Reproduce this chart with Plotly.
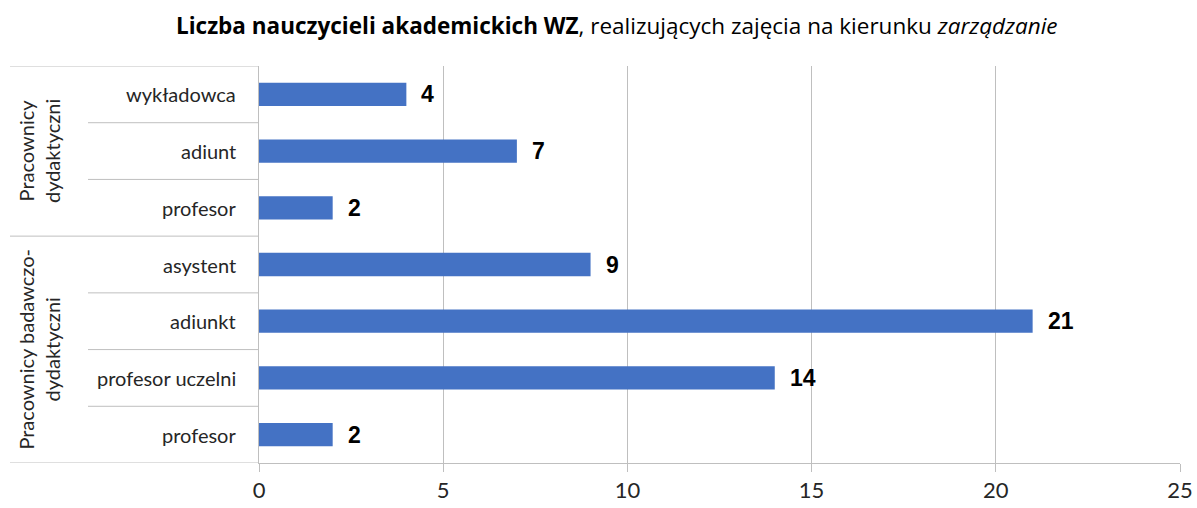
import plotly.graph_objects as go

# Data (bottom to top)
categories = ["profesor", "profesor uczelni", "adiunkt", "asystent",
              "profesor", "adiunt", "wykładowca"]
values = [2, 14, 21, 9, 2, 7, 4]
groups = ["Pracownicy badawczo-<br>dydaktyczni", "Pracownicy<br>dydaktyczni"]
group_ranges = [(0, 3), (4, 6)]
x_ticks = [0, 5, 10, 15, 20, 25]

W, H = 1197, 508
ml, mr, mt, mb = 259, 17, 66, 45
pw = W - ml - mr
ph = H - mt - mb

def px_to_paper_x(px):
    return (px - ml) / pw

def px_to_paper_y(py):
    return (H - mb - py) / ph

font_main = "Lato, 'Open Sans', sans-serif"
line_col = "#bfbfbf"
bar_col = "#4472C4"

pos = list(range(len(categories)))

fig = go.Figure()
fig.add_trace(go.Bar(
    x=values, y=pos, orientation="h",
    marker=dict(color=bar_col, line=dict(width=0)),
    width=0.41, hoverinfo="skip"
))

annotations = []
# value labels
for p, v in zip(pos, values):
    annotations.append(dict(
        x=v, y=p, xref="x", yref="y", text=f"<b>{v}</b>",
        showarrow=False, xanchor="left", yanchor="middle", xshift=13,
        font=dict(family="'Liberation Sans', Arial, sans-serif", size=23, color="#000000")
    ))
# category labels
for p, c in zip(pos, categories):
    annotations.append(dict(
        x=px_to_paper_x(238), y=p, xref="paper", yref="y", text=c,
        showarrow=False, xanchor="right", yanchor="middle",
        font=dict(family=font_main, size=20, color="#262626")
    ))
# group labels
for g, (a, b) in zip(groups, group_ranges):
    annotations.append(dict(
        x=px_to_paper_x(39), y=(a + b) / 2, xref="paper", yref="y", text=g,
        showarrow=False, xanchor="center", yanchor="middle", textangle=-90,
        font=dict(family=font_main, size=20, color="#262626")
    ))
# title
annotations.append(dict(
    x=px_to_paper_x(617), y=px_to_paper_y(26), xref="paper", yref="paper",
    xanchor="center", yanchor="middle", showarrow=False,
    text="<b>Liczba nauczycieli akademickich WZ</b>, realizujących zajęcia na kierunku <i>zarządzanie</i>",
    font=dict(family="'Open Sans', sans-serif", size=22.5, color="#000000")
))

shapes = []
n = len(categories)
for i in range(n + 1):
    yb = i - 0.5
    is_group_edge = (i == 0) or (i == n) or any(i == a for a, b in group_ranges)
    x0 = px_to_paper_x(10) if is_group_edge else px_to_paper_x(88)
    shapes.append(dict(type="line", xref="paper", yref="y", x0=x0, x1=0,
                       y0=yb, y1=yb, line=dict(color=line_col, width=1)))

fig.update_layout(
    width=W, height=H,
    margin=dict(l=ml, r=mr, t=mt, b=mb, autoexpand=False),
    paper_bgcolor="white", plot_bgcolor="white",
    showlegend=False,
    annotations=annotations, shapes=shapes,
    xaxis=dict(range=[0, 25], tickvals=x_ticks, showgrid=True, gridcolor=line_col, gridwidth=1,
               zeroline=False, showline=True, linecolor=line_col, linewidth=1,
               ticks="outside", ticklen=8, tickcolor=line_col, automargin=False,
               tickfont=dict(family=font_main, size=22, color="#262626"), fixedrange=True),
    yaxis=dict(range=[-0.5, n - 0.5], showticklabels=False, showgrid=False, zeroline=False,
               showline=True, linecolor=line_col, linewidth=1, automargin=False, fixedrange=True),
)

fig.write_html("out.html")
